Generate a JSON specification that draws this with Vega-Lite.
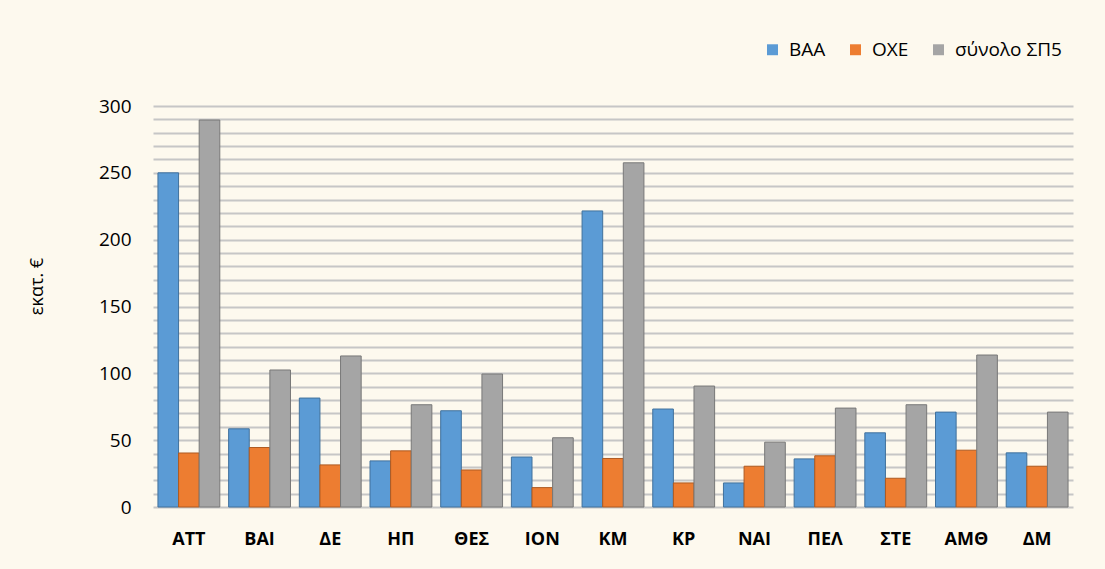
{
  "$schema": "https://vega.github.io/schema/vega-lite/v6.json",
  "autosize": "none",
  "width": 920,
  "height": 401,
  "padding": {"left": 153, "top": 106, "right": 32, "bottom": 62},
  "background": "#fdf9ee",
  "config": {
    "view": {"stroke": null},
    "font": "Open Sans"
  },
  "data": {
    "values": [
      {"region": "ΑΤΤ", "series": "ΒΑΑ", "value": 250},
      {"region": "ΑΤΤ", "series": "ΟΧΕ", "value": 40.4},
      {"region": "ΑΤΤ", "series": "σύνολο ΣΠ5", "value": 289.5},
      {"region": "ΒΑΙ", "series": "ΒΑΑ", "value": 58.5},
      {"region": "ΒΑΙ", "series": "ΟΧΕ", "value": 44.5},
      {"region": "ΒΑΙ", "series": "σύνολο ΣΠ5", "value": 102.5},
      {"region": "ΔΕ", "series": "ΒΑΑ", "value": 81.5},
      {"region": "ΔΕ", "series": "ΟΧΕ", "value": 31.5},
      {"region": "ΔΕ", "series": "σύνολο ΣΠ5", "value": 113},
      {"region": "ΗΠ", "series": "ΒΑΑ", "value": 34.5},
      {"region": "ΗΠ", "series": "ΟΧΕ", "value": 42},
      {"region": "ΗΠ", "series": "σύνολο ΣΠ5", "value": 76.5},
      {"region": "ΘΕΣ", "series": "ΒΑΑ", "value": 72},
      {"region": "ΘΕΣ", "series": "ΟΧΕ", "value": 27.7},
      {"region": "ΘΕΣ", "series": "σύνολο ΣΠ5", "value": 99.5},
      {"region": "ΙΟΝ", "series": "ΒΑΑ", "value": 37.4},
      {"region": "ΙΟΝ", "series": "ΟΧΕ", "value": 14.5},
      {"region": "ΙΟΝ", "series": "σύνολο ΣΠ5", "value": 51.8},
      {"region": "ΚΜ", "series": "ΒΑΑ", "value": 221.5},
      {"region": "ΚΜ", "series": "ΟΧΕ", "value": 36.3},
      {"region": "ΚΜ", "series": "σύνολο ΣΠ5", "value": 257.5},
      {"region": "ΚΡ", "series": "ΒΑΑ", "value": 73.3},
      {"region": "ΚΡ", "series": "ΟΧΕ", "value": 18},
      {"region": "ΚΡ", "series": "σύνολο ΣΠ5", "value": 90.5},
      {"region": "ΝΑΙ", "series": "ΒΑΑ", "value": 18},
      {"region": "ΝΑΙ", "series": "ΟΧΕ", "value": 30.5},
      {"region": "ΝΑΙ", "series": "σύνολο ΣΠ5", "value": 48.5},
      {"region": "ΠΕΛ", "series": "ΒΑΑ", "value": 36},
      {"region": "ΠΕΛ", "series": "ΟΧΕ", "value": 38.3},
      {"region": "ΠΕΛ", "series": "σύνολο ΣΠ5", "value": 74},
      {"region": "ΣΤΕ", "series": "ΒΑΑ", "value": 55.5},
      {"region": "ΣΤΕ", "series": "ΟΧΕ", "value": 21.5},
      {"region": "ΣΤΕ", "series": "σύνολο ΣΠ5", "value": 76.5},
      {"region": "ΑΜΘ", "series": "ΒΑΑ", "value": 71},
      {"region": "ΑΜΘ", "series": "ΟΧΕ", "value": 42.5},
      {"region": "ΑΜΘ", "series": "σύνολο ΣΠ5", "value": 113.7},
      {"region": "ΔΜ", "series": "ΒΑΑ", "value": 40.5},
      {"region": "ΔΜ", "series": "ΟΧΕ", "value": 30.5},
      {"region": "ΔΜ", "series": "σύνολο ΣΠ5", "value": 71}
    ]
  },
  "mark": {"type": "bar", "strokeWidth": 1},
  "encoding": {
    "x": {
      "field": "region",
      "type": "nominal",
      "sort": null,
      "scale": {"paddingInner": 0.125, "paddingOuter": 0.07},
      "axis": {
        "title": null,
        "labelAngle": 0,
        "labelFontSize": 18,
        "labelFontWeight": "bold",
        "labelColor": "#000000",
        "labelPadding": 23,
        "ticks": false,
        "domain": false
      }
    },
    "xOffset": {"field": "series", "type": "nominal", "sort": ["ΒΑΑ", "ΟΧΕ", "σύνολο ΣΠ5"], "scale": {"paddingInner": 0, "paddingOuter": 0}},
    "y": {
      "field": "value",
      "type": "quantitative",
      "scale": {"domain": [0, 300], "nice": false},
      "axis": {
        "title": "εκατ. €",
        "titleFontSize": 18,
        "titleFontWeight": "normal",
        "titleColor": "#000000",
        "titlePadding": 52,
        "titleY": 180,
        "values": [0, 10, 20, 30, 40, 50, 60, 70, 80, 90, 100, 110, 120, 130, 140, 150, 160, 170, 180, 190, 200, 210, 220, 230, 240, 250, 260, 270, 280, 290, 300],
        "labelExpr": "datum.value % 50 === 0 ? datum.label : ''",
        "labelFontSize": 19,
        "labelColor": "#000000",
        "labelPadding": 22,
        "ticks": false,
        "domain": false,
        "grid": true,
        "gridColor": "#c6c6c6",
        "gridWidth": 2
      }
    },
    "color": {
      "field": "series",
      "type": "nominal",
      "sort": ["ΒΑΑ", "ΟΧΕ", "σύνολο ΣΠ5"],
      "scale": {"domain": ["ΒΑΑ", "ΟΧΕ", "σύνολο ΣΠ5"], "range": ["#5b9bd5", "#ed7d31", "#a5a5a5"]},
      "legend": {
        "title": null,
        "orient": "none",
        "direction": "horizontal",
        "legendX": 610,
        "legendY": -66,
        "symbolType": "square",
        "symbolSize": 120,
        "symbolStrokeWidth": 0,
        "labelFontSize": 19,
        "labelColor": "#000000",
        "columnPadding": 20,
        "labelOffset": 7
      }
    },
    "stroke": {
      "field": "series",
      "type": "nominal",
      "scale": {"domain": ["ΒΑΑ", "ΟΧΕ", "σύνολο ΣΠ5"], "range": ["#41719c", "#ae5a21", "#787878"]},
      "legend": null
    }
  }
}
